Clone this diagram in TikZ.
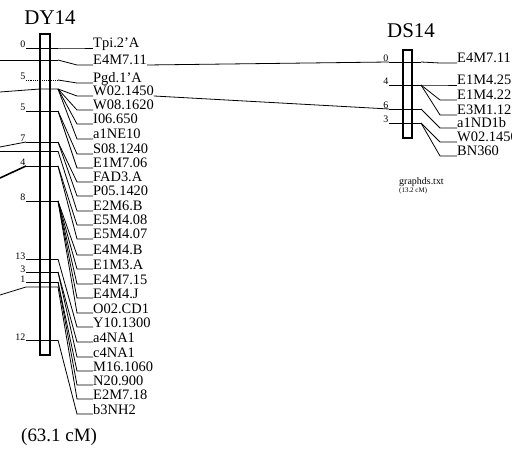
\documentclass[tikz,border=0pt]{standalone}
\usepackage{fontspec}
\setmainfont{Liberation Serif}
\usetikzlibrary{calc}

\tikzset{
	maptitle/.style={inner sep=0pt, font=\fontsize{21}{21}\selectfont},
	marker/.style={anchor=base west, inner sep=0pt, font=\fontsize{14.5}{14.5}\selectfont},
	dist/.style={anchor=base east, inner sep=0.5pt, font=\fontsize{10}{10}\selectfont},
	link/.style={line width=0.8bp},
	chrom/.style={line width=1.3bp},
}

\begin{document}
\begin{tikzpicture}[x=1bp,y=-1bp]
	\useasboundingbox (0,0) rectangle (512,454);

	% DY14
	\node[maptitle] (dy) at (50,18) {DY14};
	\draw[chrom] (40,34) rectangle (50,355);

	\foreach \t/\y in {0/48, 1/60, 2/80, 3/89, 4/111, 5/142, 6/151, 7/166, 8/201, 9/259, 10/272, 11/282, 12/287, 13/340}
		\coordinate (dyt\t) at (58,\y);
	\foreach \t/\y/\n in {0/48/0, 2/80/5, 4/111/5, 5/142/7, 7/166/4, 8/201/8, 9/259/13, 10/272/3, 11/282/1, 13/340/12}
		\node[dist] (dyn\t) at (26,\y) {\n};
	\foreach \t in {0,4,5,7,8,9,10,11,13}
		\draw[link] (dyn\t.base east) -- (dyt\t);
	\draw[link, densely dotted] (dyn2.base east) -- (dyt2);

	% lines coming in from the left
	\coordinate (in1) at (0,60);
	\coordinate (in3) at (0,92);
	\coordinate (in3b) at (40,89);
	\coordinate (in5) at (0,147);
	\coordinate (in6) at (0,151);
	\coordinate (in7) at (0,178);
	\coordinate (in12) at (0,295);
	\draw[link] (in1) -- (dyt1);
	\draw[link] (in3) -- (in3b) -- (dyt3);
	\draw[link] (in5) -- (dyn5.base east);
	\draw[link] (in6) -- (dyt6);
	\draw[line width=1.6bp] (in7) -- (dyn7.base east);
	\draw[link] (in12) -- ($(dyn11.base east)+(0,5)$) -- (dyt12);

	\foreach \txt/\t/\y [count=\i] in {Tpi.2'A/0/48, E4M7.11/1/65, Pgd.1'A/2/83, W02.1450/3/96,
			W08.1620/3/110, I06.650/3/124, a1NE10/3/139, S08.1240/4/154, E1M7.06/4/168,
			FAD3.A/5/182, P05.1420/5/196, E2M6.B/6/211, E5M4.08/7/225, E5M4.07/7/239,
			E4M4.B/8/255, E1M3.A/8/269, E4M7.15/8/284, E4M4.J/8/298, O02.CD1/8/313,
			Y10.1300/9/327, a4NA1/10/342, c4NA1/10/357, M16.1060/11/371, N20.900/11/385,
			E2M7.18/12/399, b3NH2/13/414}{
		\node[marker] (dyl\i) at (93,\y) {\txt};
		\draw[link] (dyt\t) -- (77,\y) -- (dyl\i.base west);
	}
	\node[anchor=west, inner sep=0pt, font=\fontsize{19}{19}\selectfont] (dylen) at (21,437) {(63.1 cM)};

	% DS14
	\node[maptitle] (ds) at (411,31) {DS14};
	\draw[chrom] (403,50) rectangle (412,138);

	\foreach \t/\y/\n in {0/62/0, 1/85/4, 2/109/6, 3/123/3}{
		\coordinate (dst\t) at (421,\y);
		\node[dist] (dsn\t) at (389,\y) {\n};
		\draw[link] (dsn\t.base east) -- (dst\t);
	}
	\foreach \txt/\t/\y [count=\i] in {E4M7.11/0/63, E1M4.25/1/85, E1M4.22/1/100, E3M1.12/1/115,
			a1ND1b/2/128, W02.1450/3/142, BN360/3/156}{
		\node[marker] (dsl\i) at (457,\y) {\txt};
		\draw[link] (dst\t) -- (440,\y) -- (dsl\i.base west);
	}
	\node[anchor=base west, inner sep=0pt, font=\fontsize{10}{10}\selectfont] (dsfile) at (399,185) {graphds.txt};
	\node[anchor=base west, inner sep=0pt, font=\fontsize{7}{7}\selectfont] (dslen) at (399,193) {(13.2 cM)};

	% links between the two maps
	\draw[link] (dyl2.base east) -- (dsn0.base east);
	\draw[link] (dyl4.base east) -- (dsn2.base east);
\end{tikzpicture}
\end{document}
